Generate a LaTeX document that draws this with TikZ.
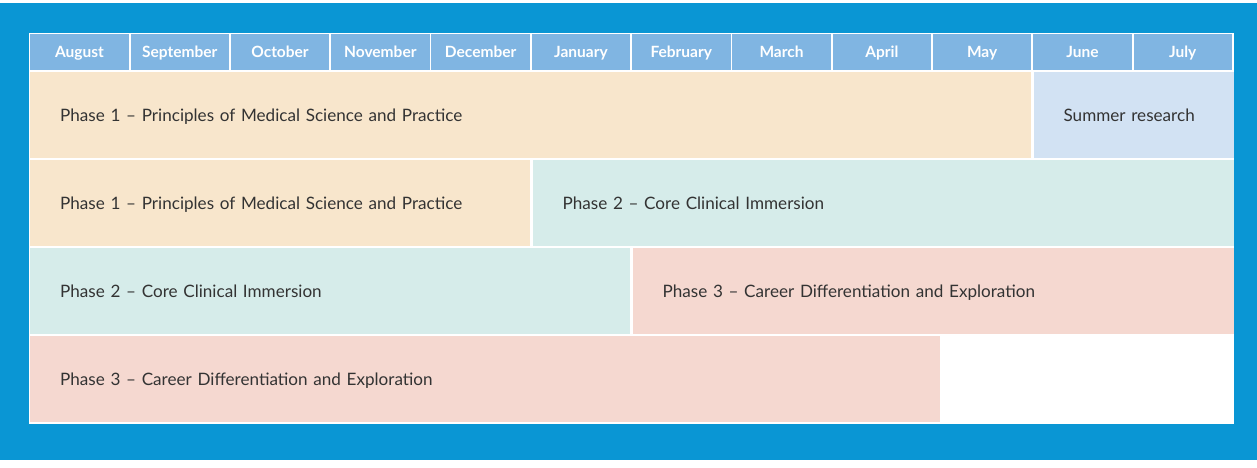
\documentclass[tikz,border=0pt]{standalone}
\usepackage{fontspec}
\setmainfont{Lato}
\usepackage{tikz}
\usetikzlibrary{positioning}

\definecolor{frameblue}{HTML}{0A96D4}
\definecolor{headblue}{HTML}{80B5E2}
\definecolor{phaseone}{HTML}{F8E6CC}
\definecolor{summer}{HTML}{D2E2F3}
\definecolor{phasetwo}{HTML}{D6ECEA}
\definecolor{phasethree}{HTML}{F5D8D0}
\definecolor{textgray}{HTML}{333333}

\tikzset{
  month/.style={fill=headblue, text=white, anchor=north west, inner sep=0pt,
    minimum width=98.5pt, minimum height=36pt, text height=10pt, text depth=0pt,
    font=\fontsize{15.5}{17}\selectfont\bfseries},
  bar/.style={anchor=north west, inner xsep=30pt, inner ysep=0pt,
    minimum height=86pt, text height=13pt, text depth=0pt, align=left,
    text=textgray, font=\fontsize{17.1}{20}\selectfont},
}

\begin{document}
\begin{tikzpicture}[x=1pt,y=-1pt]
\useasboundingbox (0,0) rectangle (1257,467);
% Frame
\fill[white] (0,0) rectangle (1257,467);
\fill[frameblue] (0,3) rectangle (1257,460);
\fill[white] (29,33) rectangle (1234,424);

% Months
\foreach \name [count=\i from 0] in {August,September,October,November,December,January,February,March,April,May,June,July}
  \node[month] (m\i) at ({30+100.3*\i},34) {\name};

% Year 1
\node[bar, fill=phaseone, text width=941pt] (yearone) at (30,72)
  {Phase 1 -- Principles of Medical Science and Practice};
\node[bar, fill=summer, text width=140pt, right=2pt of yearone] (research)
  {Summer research};

% Year 2
\node[bar, fill=phaseone, text width=440pt] (yeartwo) at (30,160)
  {Phase 1 -- Principles of Medical Science and Practice};
\node[bar, fill=phasetwo, text width=641pt, right=2pt of yeartwo] (clinicaltwo)
  {Phase 2 -- Core Clinical Immersion};

% Year 3
\node[bar, fill=phasetwo, text width=540pt] (yearthree) at (30,248)
  {Phase 2 -- Core Clinical Immersion};
\node[bar, fill=phasethree, text width=541pt, right=2pt of yearthree] (careerthree)
  {Phase 3 -- Career Differentiation and Exploration};

% Year 4
\node[bar, fill=phasethree, text width=850pt] (yearfour) at (30,336)
  {Phase 3 -- Career Differentiation and Exploration};
\end{tikzpicture}
\end{document}
